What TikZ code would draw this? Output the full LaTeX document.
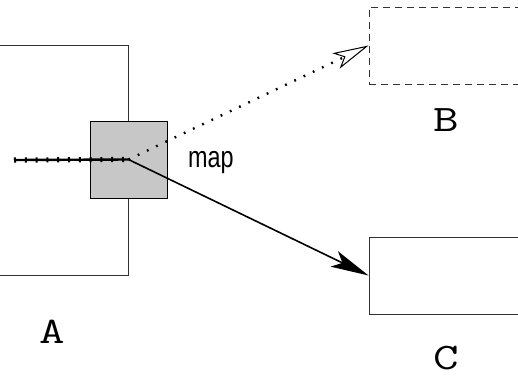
\documentclass[tikz,border=0pt]{standalone}
\usepackage{fontspec}
\setmainfont{Liberation Sans}
\usetikzlibrary{arrows.meta,decorations.markings}
\tikzset{
  box/.style={draw=black!80, line width=0.9pt, rectangle, inner sep=0pt},
  dashbox/.style={box, dash pattern=on 7pt off 5pt},
  mapbox/.style={draw=black, line width=1pt, fill=black!22, minimum width=77pt, minimum height=77pt, inner sep=0pt},
  letter/.style={font=\ttfamily\fontsize{36}{36}\selectfont, inner sep=0pt},
  maplabel/.style={font=\fontsize{30}{30}\selectfont, inner sep=0pt},
  inline/.style={line width=2.4pt, postaction={decorate}, decoration={markings,
     mark=between positions 1pt and 1 step 10.8pt with {\fill (-1pt,-2.6pt) rectangle (1pt,2.6pt);}}},
  dotline/.style={line width=2.4pt, dash pattern=on 1.8pt off 8.4pt,
     -{Stealth[open, length=36pt, width=17pt, inset=9pt, line width=1pt, sep=0pt]}},
  solidarrow/.style={line width=1.6pt,
     -{Stealth[length=38pt, width=17pt, inset=9pt]}}
}
\newcommand{\widen}[1]{\scalebox{1.38}[1.04]{#1}}
\begin{document}
\begin{tikzpicture}[x=1pt,y=-1pt]
\useasboundingbox (0,0) rectangle (518,375);
\clip (0,0) rectangle (518,375);
% box A (left side off canvas)
\node[box, minimum width=200pt, minimum height=230pt] (A) at (28,160) {};
% B and C
\node[dashbox, minimum width=200pt, minimum height=77pt] (B) at (469,45.5) {};
\node[box, minimum width=200pt, minimum height=77pt] (C) at (469,275.5) {};
% map square
\node[mapbox] (map) at (128.5,159.5) {};
\coordinate (in) at (14,160);
\draw[inline] (in) -- (map.center);
\draw[dotline] (map.center) -- (B.west);
\draw[solidarrow] (map.center) -- (C.west);
% labels
\node[maplabel] (maplab) at (211,163) {\scalebox{0.78}[1]{map}};
\node[letter] (labA) at (52,332) {\widen{A}};
\node[letter] (labB) at (446,120) {\widen{B}};
\node[letter] (labC) at (446,358) {\widen{C}};
\end{tikzpicture}
\end{document}
